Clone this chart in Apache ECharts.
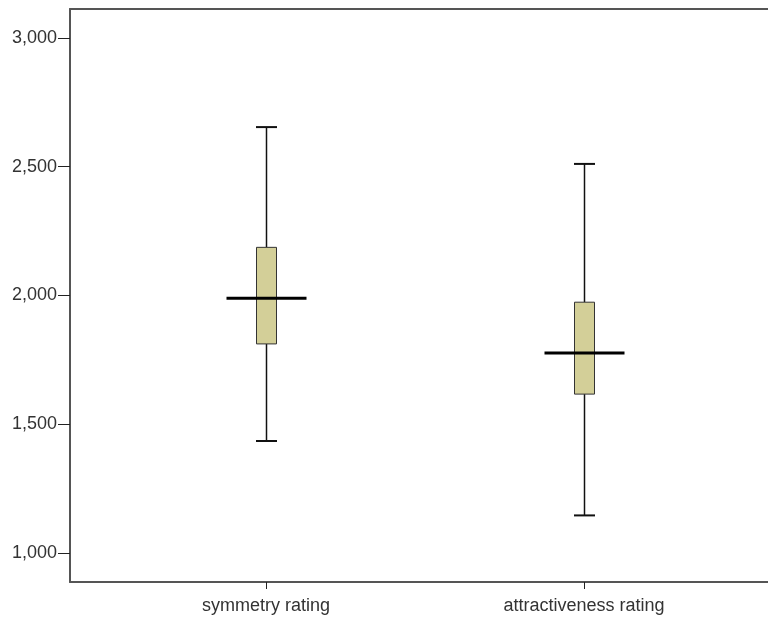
<!DOCTYPE html>
<html>
<head>
<meta charset="utf-8">
<script src="https://cdn.jsdelivr.net/npm/echarts@6/dist/echarts.min.js"></script>
<style>html,body{margin:0;padding:0;background:#fff;}#c{width:768px;height:622px;}</style>
</head>
<body>
<div id="c"></div>
<script>
var categories = ['symmetry rating', 'attractiveness rating'];
var whiskerLow = [1.435, 1.146];
var q1 = [1.812, 1.617];
var medians = [1.989, 1.777];
var q3 = [2.187, 1.974];
var whiskerHigh = [2.654, 2.511];
var yTicks = [1.0, 1.5, 2.0, 2.5, 3.0];

var data = categories.map(function (c, i) {
  return [i, whiskerLow[i], q1[i], medians[i], q3[i], whiskerHigh[i]];
});

var chart = echarts.init(document.getElementById('c'), null, {renderer: 'canvas'});
var font = 'Liberation Sans, Arial, sans-serif';
chart.setOption({
  animation: false,
  backgroundColor: '#fff',
  grid: {left: 70, top: 9, width: 710, height: 573, show: false, outerBoundsMode: 'none', containLabel: false},
  xAxis: [{
    type: 'value', min: -0.6164, max: 1.6164,
    splitLine: {show: false},
    axisLine: {show: true, onZero: false, lineStyle: {color: '#555', width: 2}},
    axisTick: {show: true, length: 7, customValues: [0, 1], lineStyle: {color: '#222', width: 1}},
    axisLabel: {customValues: [0, 1], margin: 15, fontSize: 18, fontFamily: font, color: '#333',
      formatter: function (v) { return categories[Math.round(v)]; }}
  }, {
    type: 'value', position: 'top', min: -0.6164, max: 1.6164,
    splitLine: {show: false},
    axisLine: {show: true, onZero: false, lineStyle: {color: '#555', width: 2}},
    axisTick: {show: false}, axisLabel: {show: false}
  }],
  yAxis: {
    type: 'value', min: 0.8874, max: 3.1126,
    splitLine: {show: false},
    axisLine: {show: true, onZero: false, lineStyle: {color: '#555', width: 2}},
    axisTick: {show: true, length: 12, customValues: yTicks, lineStyle: {color: '#222', width: 1}},
    axisLabel: {customValues: yTicks, margin: 13, fontSize: 18, fontFamily: font, color: '#333',
      padding: [3, 0, 0, 0],
      formatter: function (v) { return v.toFixed(3).replace('.', ','); }}
  },
  series: [{
    type: 'custom',
    xAxisIndex: 0,
    data: data,
    renderItem: function (params, api) {
      var x = api.value(0);
      var pLow = api.coord([x, api.value(1)]);
      var pQ1 = api.coord([x, api.value(2)]);
      var pMed = api.coord([x, api.value(3)]);
      var pQ3 = api.coord([x, api.value(4)]);
      var pHigh = api.coord([x, api.value(5)]);
      var cx = Math.round(pLow[0]) + 0.5;
      var bw = 20, mw = 80, cw = 21;
      return {
        type: 'group',
        children: [
          {type: 'line', shape: {x1: cx, y1: pHigh[1], x2: cx, y2: pQ3[1]}, style: {stroke: '#111', lineWidth: 1.5}},
          {type: 'line', shape: {x1: cx, y1: pQ1[1], x2: cx, y2: pLow[1]}, style: {stroke: '#111', lineWidth: 1.5}},
          {type: 'line', shape: {x1: cx - cw / 2, y1: pHigh[1], x2: cx + cw / 2, y2: pHigh[1]}, style: {stroke: '#111', lineWidth: 2}},
          {type: 'line', shape: {x1: cx - cw / 2, y1: pLow[1], x2: cx + cw / 2, y2: pLow[1]}, style: {stroke: '#111', lineWidth: 2}},
          {type: 'rect', shape: {x: cx - bw / 2, y: pQ3[1], width: bw, height: pQ1[1] - pQ3[1]}, style: {fill: '#d3cf98', stroke: '#333', lineWidth: 1}},
          {type: 'line', shape: {x1: cx - mw / 2, y1: pMed[1], x2: cx + mw / 2, y2: pMed[1]}, style: {stroke: '#000', lineWidth: 3}}
        ]
      };
    }
  }]
});
</script>
</body>
</html>
